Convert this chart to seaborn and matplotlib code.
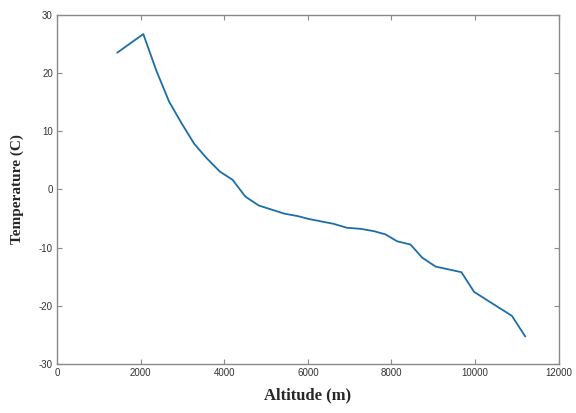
import numpy as np
import pandas as pd
import matplotlib
matplotlib.use('Agg')
import matplotlib.pyplot as plt
import seaborn as sns

# values
altitude = [1440, 2064, 2376, 2680, 2976, 3280, 3560, 3896, 4200, 4504, 4824,
            5120, 5440, 5760, 6016, 6616, 6936, 7256, 7576, 7856, 8136, 8456,
            8736, 9056, 9672, 9976, 10880, 11200]
temperature = [23.5, 26.7, 20.4, 15.1, 11.4, 7.85, 5.5, 3.05, 1.64, -1.24, -2.77,
               -3.45, -4.18, -4.6, -5.08, -5.93, -6.61, -6.78, -7.18, -7.74, -8.93, -9.49,
               -11.75, -13.28, -14.24, -17.63, -21.75, -25.3]
xticks = [0, 2000, 4000, 6000, 8000, 10000, 12000]
yticks = [-30, -20, -10, 0, 10, 20, 30]

df = pd.DataFrame({'Altitude': altitude, 'Temperature': temperature})

sns.set_style('white')
plt.rcParams['font.family'] = ['Liberation Sans', 'DejaVu Sans']
plt.rcParams['axes.unicode_minus'] = False

fig = plt.figure(figsize=(5.76, 4.13), dpi=100)
ax = fig.add_axes([0.099, 0.119, 0.871, 0.845])

sns.lineplot(data=df, x='Altitude', y='Temperature', color='#1a6fa8',
             linewidth=1.3, sort=False, ax=ax)

ax.set_xlim(0, 12000)
ax.set_ylim(-30, 30)
ax.set_xticks(xticks)
ax.set_yticks(yticks)
ax.tick_params(direction='in', length=3.5, width=0.8, colors='#8a8a8a',
               labelcolor='#333333', labelsize=7, top=True, right=True,
               bottom=True, left=True, pad=3)
for sp in ax.spines.values():
    sp.set_color('#8a8a8a')
    sp.set_linewidth(1.0)

ax.set_xlabel('Altitude (m)', fontsize=12, fontweight='bold',
              family='Liberation Serif', labelpad=7)
ax.set_ylabel('Temperature (C)', fontsize=11, fontweight='bold',
              family='Liberation Serif', labelpad=11)

fig.savefig('out.png', dpi=100)
